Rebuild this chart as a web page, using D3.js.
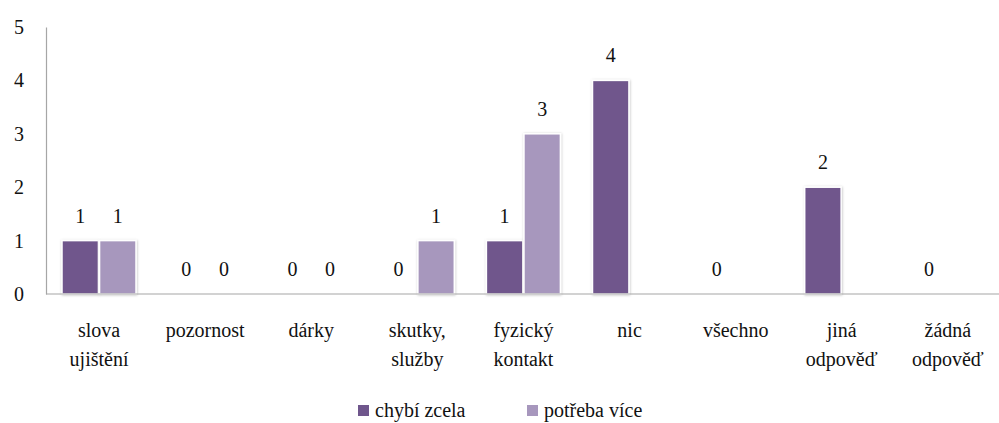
<!DOCTYPE html>
<html>
<head>
<meta charset="utf-8">
<script src="https://cdn.jsdelivr.net/npm/d3@7"></script>
<style>
  body { margin: 0; background: #fff; font-family: "Liberation Serif", serif; font-size: 20px; }
  text { font-family: "Liberation Serif", serif !important; font-size: 20px !important; }
</style>
</head>
<body>
<div id="chart"></div>
<script>
// categories (two lines each where the label wraps)
const categories = ['slova ujištění', 'pozornost', 'dárky', 'skutky, služby', 'fyzický kontakt', 'nic', 'všechno', 'jiná odpověď', 'žádná odpověď']
const labelLines = [['slova', 'ujištění'], ['pozornost'], ['dárky'], ['skutky,', 'služby'], ['fyzický', 'kontakt'], ['nic'], ['všechno'], ['jiná', 'odpověď'], ['žádná', 'odpověď']]
const seriesNames = ['chybí zcela', 'potřeba více']
const chybiZcela = [1, 0, 0, 0, 1, 4, 0, 2, 0]
const potrebaVice = [1, 0, 0, 1, 3, null, null, null, null]
const yTicks = [0, 1, 2, 3, 4, 5]
const colors = ['#6f568c', '#a797bd']

const TXT = 'font-family: "Liberation Serif", serif; font-size: 20px'
const W = 999
const H = 423
const margin = { top: 27, right: 0, bottom: 129, left: 46 }
const height = H - margin.top - margin.bottom

const svg = d3.select('#chart').append('svg')
  .attr('width', W)
  .attr('height', H)

const defs = svg.append('defs')
const shadow = defs.append('filter').attr('id', 'shadow')
  .attr('x', '-20%').attr('y', '-20%').attr('width', '140%').attr('height', '140%')
shadow.append('feDropShadow')
  .attr('dx', 0.5).attr('dy', 0.5).attr('stdDeviation', 1)
  .attr('flood-color', '#000').attr('flood-opacity', 0.25)

const x = d3.scaleBand()
  .domain(categories)
  .range([margin.left, margin.left + 9 * 106.1])

const x1 = d3.scaleBand()
  .domain(seriesNames)
  .range([16, 16 + 74])
  .paddingInner(0.03)

const y = d3.scaleLinear()
  .domain([0, 5])
  .range([margin.top + height, margin.top])

// y axis
const yAxis = svg.append('g')
  .attr('transform', `translate(${margin.left},0)`)
  .call(d3.axisLeft(y).tickValues(yTicks).tickFormat(d3.format('d')).tickSize(0).tickSizeOuter(0).tickPadding(22))
yAxis.attr('font-family', null).attr('font-size', null)
yAxis.select('.domain').attr('stroke', '#a6a6a6').attr('stroke-width', 1.2)
yAxis.selectAll('text').attr('fill', '#111').attr('style', TXT)

// bars
const rows = categories.map((c, i) => ({ cat: c, values: [chybiZcela[i], potrebaVice[i]] }))

const groups = svg.selectAll('.cat')
  .data(rows)
  .enter().append('g')
  .attr('class', 'cat')
  .attr('transform', d => `translate(${x(d.cat)},0)`)

groups.selectAll('rect')
  .data(d => d.values.map((v, j) => ({ key: seriesNames[j], v, j })).filter(d => d.v !== null && d.v > 0))
  .enter().append('rect')
  .attr('x', d => x1(d.key))
  .attr('y', d => y(d.v))
  .attr('width', x1.bandwidth())
  .attr('height', d => y(0) - y(d.v))
  .attr('fill', d => colors[d.j])
  .attr('stroke', '#fff')
  .attr('stroke-width', 1.5)
  .attr('filter', 'url(#shadow)')

groups.selectAll('text.val')
  .data(d => d.values.map((v, j) => ({ key: seriesNames[j], v, j })).filter(d => d.v !== null))
  .enter().append('text')
  .attr('class', 'val')
  .attr('x', d => x1(d.key) + x1.bandwidth() / 2)
  .attr('y', d => y(d.v) - 18)
  .attr('text-anchor', 'middle')
  .attr('fill', '#111')
  .attr('style', TXT)
  .text(d => d.v)

// x axis
const xAxis = svg.append('g')
  .attr('transform', `translate(0,${y(0)})`)
  .call(d3.axisBottom(x).tickSize(0).tickSizeOuter(0).tickFormat(''))
xAxis.select('.domain').attr('stroke', '#a6a6a6').attr('stroke-width', 1.2)
  .attr('d', `M${margin.left},0H${W}`)

const xl = svg.selectAll('.xlabel')
  .data(categories)
  .enter().append('text')
  .attr('class', 'xlabel')
  .attr('text-anchor', 'middle')
  .attr('fill', '#111')
  .attr('style', TXT)
  .attr('x', d => x(d) + x.bandwidth() / 2)
  .attr('y', y(0) + 43)

xl.selectAll('tspan')
  .data((d, i) => labelLines[i])
  .enter().append('tspan')
  .attr('x', function () { return d3.select(this.parentNode).attr('x') })
  .attr('dy', (d, i) => i === 0 ? 0 : 29)
  .text(d => d)

// legend
const legendX = [358, 527]
const legend = svg.selectAll('.legend')
  .data(seriesNames)
  .enter().append('g')
  .attr('class', 'legend')
  .attr('transform', (d, i) => `translate(${legendX[i]},405)`)

legend.append('rect')
  .attr('width', 11).attr('height', 11)
  .attr('fill', (d, i) => colors[i])

legend.append('text')
  .attr('x', 17)
  .attr('y', 12)
  .attr('fill', '#111')
  .attr('style', TXT)
  .text(d => d)
</script>
</body>
</html>
